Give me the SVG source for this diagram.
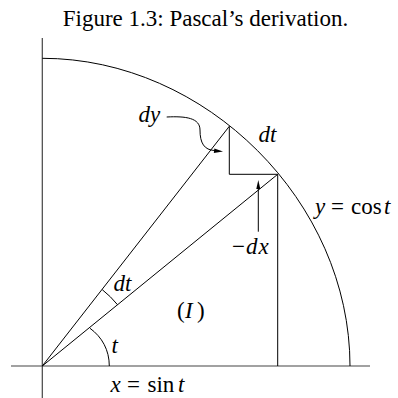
<svg xmlns="http://www.w3.org/2000/svg" width="398" height="398" viewBox="0 0 398 398">
<style>
text{font-family:"Liberation Serif","Times New Roman",serif;font-size:23px;fill:#000}
.i{font-style:italic}
.ln{fill:none;stroke:#000;stroke-width:1}
.ax{fill:none;stroke:#444;stroke-width:1.2}
.ah{fill:#000;stroke:none}
</style>
<rect width="398" height="398" fill="#fff"/>
<text id="title" x="205.5" y="26" text-anchor="middle">Figure 1.3: Pascal’s derivation.</text>
<g id="axes">
<line class="ax" x1="42.3" y1="38" x2="42.3" y2="398"/>
<line class="ax" x1="11" y1="366" x2="370" y2="366"/>
</g>
<g id="circle-arc">
<path class="ln" d="M42.3,58.3 C206,58.3 350,202 350,366"/>
</g>
<g id="rays">
<line class="ln" x1="42.3" y1="366" x2="229.3" y2="126.3"/>
<line class="ln" x1="42.3" y1="366" x2="277.7" y2="174.3"/>
<line class="ln" x1="277.7" y1="174.3" x2="277.7" y2="366"/>
</g>
<g id="small-triangle">
<polyline class="ln" points="229.3,126.3 229.3,174.3 277.7,174.3"/>
</g>
<g id="angle-arcs">
<path class="ln" d="M109.3,366 C109.3,350 102,337 90,328.3"/>
<path class="ln" d="M102.2,289.6 A97,97 0 0 1 117.6,304.8"/>
</g>
<g id="connectors">
<path class="ln" d="M166.7,117 C186,116 200,118 200,130 C200,143 204,150 215,150.6"/>
<polygon class="ah" points="223,151.6 213.8,153 214.4,148.4"/>
<line class="ln" x1="258.3" y1="231.7" x2="258.3" y2="187"/>
<polygon class="ah" points="258.3,180 260.3,189 256.3,189"/>
</g>
<g id="labels">
<text x="138.5" y="122"><tspan class="i">d</tspan><tspan class="i" x="150">y</tspan></text>
<text x="258.5" y="141.5"><tspan class="i">d</tspan><tspan class="i" x="270">t</tspan></text>
<text x="315" y="213.5"><tspan class="i">y</tspan><tspan x="331">=</tspan><tspan x="351">cos</tspan><tspan class="i" x="384">t</tspan></text>
<text x="232" y="254"><tspan>−</tspan><tspan class="i" x="246">d</tspan><tspan class="i" x="258.5">x</tspan></text>
<text x="113.5" y="290.5"><tspan class="i">d</tspan><tspan class="i" x="125">t</tspan></text>
<text x="177" y="318"><tspan>(</tspan><tspan class="i" x="185">I</tspan><tspan x="197">)</tspan></text>
<text class="i" x="111.5" y="353">t</text>
<text x="110.5" y="392"><tspan class="i">x</tspan><tspan x="127">=</tspan><tspan x="147.5">sin</tspan><tspan class="i" x="178">t</tspan></text>
</g>
</svg>
